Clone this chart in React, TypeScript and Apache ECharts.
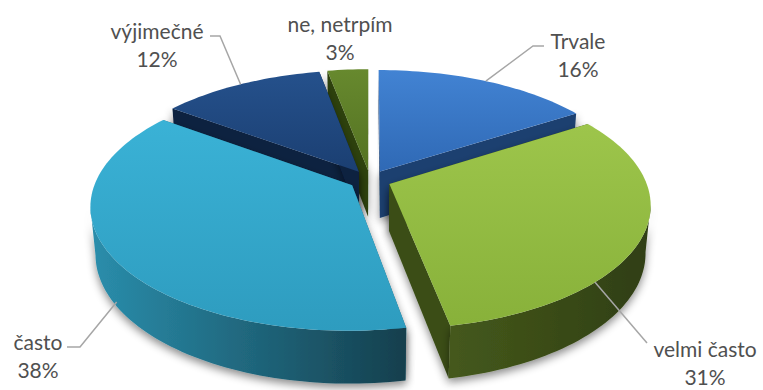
import React, { useEffect, useRef } from "react";
import * as echarts from "echarts";

const CATEGORIES = ["Trvale", "velmi často", "často", "výjimečné", "ne, netrpím"];
const VALUES = [16, 31, 38, 12, 3];

const TOP_COLORS = [
  ["#4283d3", "#2f69b5"],
  ["#9dc54b", "#88b13a"],
  ["#3ab2d6", "#2e9cbf"],
  ["#25518c", "#1b3f72"],
  ["#67892e", "#547222"],
];
const SIDE_COLORS = [
  ["#23508a", "#163562"],
  ["#45591c", "#2f3e12"],
  ["#2a8eac", "#153f4d"],
  ["#12315c", "#0a1d38"],
  ["#3d5617", "#26370c"],
];
const RADIAL_COLORS = ["#1b3f70", "#3a4d17", "#1d6478", "#0c2241", "#2f4311"];

// label layout (text centre, leader anchor inside slice, leader bends)
const LABEL_LAYOUT = [
  { x: 578, y: 54, t: 0.5, h: 0, bends: [[533, 46], [544, 46]] },
  { x: 705, y: 362, t: 0.7, h: 0, bends: [[647, 343]] },
  { x: 38, y: 355, t: 0.5, h: -0.9, bends: [[80, 347], [67, 347]] },
  { x: 157, y: 44, t: 0.5, h: 0, bends: [[220, 36], [210, 36]] },
  { x: 340, y: 37, t: 0.5, h: 0, bends: [] },
];

const DEG = Math.PI / 180;
const GEO = { cx: 370, cy: 180, R: 256, A: 28 * DEG, D: 5.5 * 256, H: 54, d: 21 };

function proj(X: number, Z: number, hh: number): number[] {
  const yc = Z * Math.sin(GEO.A) + hh * Math.cos(GEO.A);
  const zc = Z * Math.cos(GEO.A) - hh * Math.sin(GEO.A);
  const s = GEO.D / (GEO.D + zc);
  return [GEO.cx + X * s, GEO.cy - yc * s];
}

export default function App() {
  const ref = useRef<HTMLDivElement>(null);
  useEffect(() => {
    document.body.style.margin = "0";
    const chart = echarts.init(ref.current!, null, { renderer: "svg" });
    const total = VALUES.reduce((a, b) => a + b, 0);
    const starts: number[] = [];
    let acc = 0;
    VALUES.forEach((v) => {
      starts.push(acc);
      acc += v;
    });
    const mids = VALUES.map((v, i) => ((starts[i] + v / 2) / total) * 360);
    const order = mids
      .map((m, i) => ({ i, near: -Math.cos(m * DEG) }))
      .sort((a, b) => a.near - b.near)
      .map((o) => o.i);

    const renderItem = (params: any, api: any) => {
      const i = params.dataIndex;
      const v = api.value(0);
      const a0 = (starts[i] / total) * 360;
      const a1 = ((starts[i] + v) / total) * 360;
      const mid = (a0 + a1) / 2;
      const ex = GEO.d * Math.sin(mid * DEG);
      const ez = GEO.d * Math.cos(mid * DEG);
      const rim = (th: number, hh: number) =>
        proj(ex + GEO.R * Math.sin(th * DEG), ez + GEO.R * Math.cos(th * DEG), hh);
      const apex = (hh: number) => proj(ex, ez, hh);
      const rank = order.indexOf(i);
      const children: any[] = [];
      const shadow = { shadowBlur: 8, shadowColor: "rgba(0,0,0,0.45)", shadowOffsetY: 4 };

      // radial faces
      [a0, a1].forEach((th, k) => {
        children.push({
          type: "polygon",
          z2: rank * 10 + 1 + k,
          shape: { points: [apex(0), rim(th, 0), rim(th, -GEO.H), apex(-GEO.H)] },
          style: { fill: RADIAL_COLORS[i], ...shadow },
        });
      });

      // outer wall
      const n = Math.max(2, Math.ceil((a1 - a0) / 1.5));
      const ths: number[] = [];
      for (let k = 0; k <= n; k++) ths.push(a0 + ((a1 - a0) * k) / n);
      let run: number[] = [];
      const runs: number[][] = [];
      for (let k = 0; k < n; k++) {
        const p = rim(ths[k], 0);
        const q = rim(ths[k + 1], 0);
        if (q[0] < p[0]) {
          if (run.length === 0) run.push(ths[k]);
          run.push(ths[k + 1]);
        } else if (run.length) {
          runs.push(run);
          run = [];
        }
      }
      if (run.length) runs.push(run);
      runs.forEach((r) => {
        const pts = r.map((th) => rim(th, 0)).concat(r.slice().reverse().map((th) => rim(th, -GEO.H)));
        children.push({
          type: "polygon",
          z2: rank * 10 + 5,
          shape: { points: pts },
          style: {
            fill: new echarts.graphic.LinearGradient(0, 0, 1, 0, [
              { offset: 0, color: SIDE_COLORS[i][0] },
              { offset: 1, color: SIDE_COLORS[i][1] },
            ]),
            ...shadow,
          },
        });
      });

      // top face
      const topPts = [apex(0)].concat(ths.map((th) => rim(th, 0)));
      children.push({
        type: "polygon",
        z2: 100 + rank,
        shape: { points: topPts },
        style: {
          fill: new echarts.graphic.LinearGradient(0, 0, 0, 1, [
            { offset: 0, color: TOP_COLORS[i][0] },
            { offset: 1, color: TOP_COLORS[i][1] },
          ]),
        },
      });

      // label + leader
      const L = LABEL_LAYOUT[i];
      if (L.bends.length) {
        const th = a0 + (a1 - a0) * L.t;
        const start = rim(th, L.h * GEO.H);
        children.push({
          type: "polyline",
          z2: 200,
          shape: { points: [start].concat(L.bends as any) },
          style: { stroke: "#a6a6a6", lineWidth: 1.5, fill: null },
        });
      }
      children.push({
        type: "text",
        z2: 210,
        style: {
          text: CATEGORIES[i] + "\n" + v + "%",
          x: L.x,
          y: L.y,
          align: "center",
          verticalAlign: "middle",
          fill: "#505050",
          font: '21px Lato, "Open Sans", sans-serif',
          lineHeight: 28,
        },
      });
      return { type: "group", children };
    };

    chart.setOption({
      animation: false,
      backgroundColor: "#ffffff",
      series: [
        {
          type: "custom",
          coordinateSystem: "none",
          renderItem,
          data: VALUES.map((v) => [v]),
        },
      ],
    });
    return () => chart.dispose();
  }, []);
  return <div ref={ref} style={{ width: 763, height: 390 }} />;
}
